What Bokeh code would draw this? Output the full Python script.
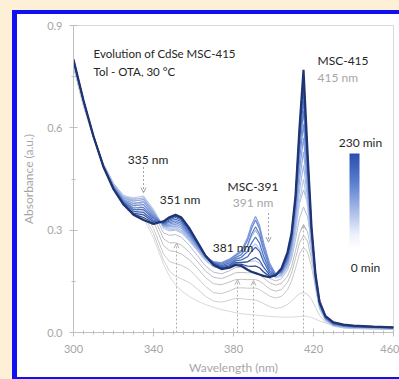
import numpy as np
from bokeh.plotting import figure
from bokeh.layouts import column, row
from bokeh.models import (Label, Arrow, OpenHead, ColorBar, LinearColorMapper,
                          FixedTicker, Range1d, NumeralTickFormatter, Spacer)
from bokeh.embed import file_html
from bokeh.resources import INLINE

# ---------------- data ----------------
wavelength = [300, 305, 310, 315, 320, 325, 330, 335, 340, 345, 348, 351, 354, 358, 362, 366,
              370, 374, 378, 381, 384, 387, 389, 391, 393, 395, 398, 401, 404, 407, 409, 411,
              413, 415, 417, 419, 421, 423, 426, 430, 435, 440, 450, 460]

# early (grey) spectra, 0 min first
g0 = [.778, .662, .569, .489, .430, .387, .360, .335, .278, .200, .165, .140, .122, .105, .092, .082,
      .074, .067, .062, .058, .055, .053, .052, .051, .050, .049, .047, .046, .045, .045, .045, .046,
      .047, .048, .047, .044, .039, .034, .028, .022, .018, .016, .013, .012]
g1 = [.779, .664, .570, .490, .432, .390, .366, .345, .290, .212, .180, .165, .157, .146, .127, .106,
      .092, .089, .095, .100, .099, .097, .096, .095, .091, .085, .076, .071, .073, .082, .092, .104,
      .114, .117, .112, .097, .074, .050, .030, .018, .013, .011, .010, .009]
g2 = [.780, .666, .571, .491, .434, .393, .372, .355, .305, .230, .208, .202, .197, .184, .160, .135,
      .117, .114, .122, .130, .131, .130, .130, .130, .126, .118, .107, .101, .106, .125, .150, .188,
      .230, .250, .236, .192, .132, .078, .039, .020, .014, .012, .011, .010]
g3 = [.782, .668, .572, .492, .436, .396, .378, .366, .325, .255, .240, .237, .230, .213, .188, .161,
      .143, .140, .148, .155, .156, .155, .155, .155, .151, .142, .128, .121, .126, .147, .174, .217,
      .262, .285, .268, .215, .145, .085, .042, .021, .015, .012, .011, .010]
g4 = [.784, .670, .573, .493, .437, .398, .383, .376, .340, .275, .263, .263, .256, .235, .208, .180,
      .162, .158, .167, .175, .176, .175, .175, .175, .170, .160, .146, .139, .144, .165, .193, .240,
      .290, .316, .296, .235, .155, .090, .044, .022, .015, .013, .012, .010]
g5 = [.786, .672, .574, .493, .437, .400, .388, .385, .352, .292, .285, .287, .279, .255, .225, .195,
      .177, .172, .181, .190, .192, .193, .194, .195, .188, .175, .159, .151, .158, .183, .215, .272,
      .335, .368, .340, .265, .170, .096, .047, .023, .016, .013, .012, .011]
g6 = [.788, .674, .575, .493, .437, .402, .392, .392, .360, .305, .298, .300, .292, .270, .240, .210,
      .192, .188, .196, .205, .207, .208, .209, .210, .203, .190, .172, .163, .170, .198, .238, .305,
      .378, .418, .380, .290, .180, .100, .050, .024, .016, .013, .012, .011]

# later (blue) spectra, 230 min last
b1 = [.790, .675, .575, .492, .435, .400, .395, .400, .360, .310, .302, .303, .295, .268, .240, .212,
      .196, .195, .205, .215, .222, .236, .250, .260, .245, .215, .180, .160, .165, .190, .225, .290,
      .385, .450, .370, .240, .130, .070, .035, .020, .015, .013, .012, .011]
b2 = [.792, .676, .575, .491, .433, .397, .390, .395, .355, .310, .306, .307, .299, .272, .243, .215,
      .200, .199, .209, .220, .230, .255, .282, .300, .280, .240, .192, .165, .168, .195, .235, .310,
      .415, .490, .395, .255, .138, .074, .037, .021, .016, .014, .013, .012]
b3 = [.794, .677, .575, .490, .431, .394, .385, .390, .352, .312, .310, .312, .305, .277, .246, .218,
      .204, .203, .213, .225, .238, .270, .305, .330, .305, .258, .200, .170, .172, .200, .245, .330,
      .445, .530, .415, .265, .145, .077, .039, .022, .017, .015, .014, .012]
b4 = [.795, .678, .575, .489, .429, .390, .378, .383, .348, .314, .314, .317, .310, .282, .250, .221,
      .207, .205, .215, .228, .242, .278, .315, .340, .315, .265, .204, .172, .175, .205, .255, .345,
      .475, .570, .435, .275, .150, .080, .041, .023, .018, .016, .014, .013]
b5 = [.796, .678, .575, .488, .427, .387, .372, .375, .343, .316, .318, .322, .315, .286, .253, .222,
      .207, .203, .213, .225, .237, .270, .305, .330, .305, .256, .198, .171, .177, .210, .262, .360,
      .505, .610, .455, .285, .155, .082, .042, .024, .019, .016, .015, .013]
b6 = [.797, .679, .575, .487, .425, .384, .365, .367, .338, .318, .322, .327, .320, .290, .256, .223,
      .206, .200, .209, .220, .228, .255, .288, .310, .288, .243, .190, .170, .179, .215, .268, .372,
      .530, .650, .475, .292, .160, .084, .043, .025, .020, .017, .015, .014]
b7 = [.798, .679, .575, .487, .424, .382, .360, .360, .334, .320, .326, .332, .325, .294, .259, .224,
      .204, .196, .204, .215, .220, .238, .262, .280, .262, .225, .182, .168, .181, .220, .274, .382,
      .555, .680, .490, .298, .163, .086, .044, .026, .020, .017, .016, .014]
b8 = [.798, .679, .575, .486, .423, .380, .355, .352, .329, .321, .330, .337, .329, .298, .261, .225,
      .202, .193, .199, .210, .213, .222, .238, .250, .238, .208, .175, .167, .183, .226, .280, .390,
      .575, .710, .505, .302, .165, .087, .045, .027, .021, .018, .016, .014]
b9 = [.799, .680, .575, .486, .422, .378, .350, .345, .325, .323, .334, .341, .333, .301, .263, .225,
      .200, .190, .195, .205, .205, .207, .214, .220, .212, .192, .169, .167, .185, .230, .285, .395,
      .590, .735, .515, .305, .167, .088, .046, .028, .022, .019, .016, .015]
b10 = [.800, .680, .575, .485, .421, .376, .347, .337, .321, .325, .336, .343, .335, .303, .264, .225,
       .199, .188, .192, .201, .200, .195, .194, .195, .190, .178, .165, .167, .187, .233, .288, .398,
       .595, .755, .522, .308, .169, .089, .047, .029, .022, .019, .017, .015]
b11 = [.800, .680, .575, .485, .420, .375, .345, .330, .318, .326, .338, .345, .337, .305, .265, .225,
       .198, .186, .190, .198, .195, .184, .178, .174, .170, .166, .162, .168, .188, .235, .290, .400,
       .600, .770, .530, .310, .170, .090, .048, .030, .023, .020, .017, .015]

spectra = [g0, g1, g2, g3, g4, g5, g6, b1, b2, b3, b4, b5, b6, b7, b8, b9, b10, b11]
spectra_colors = ["#d9d9d9", "#d0d0d0", "#c8c8c8", "#c0c0c0", "#bcbec4", "#b4bccc", "#acbad6",
                  "#bccbec", "#a9bce7", "#96ade1", "#839edb", "#708fd4", "#5e80cc", "#4d71c2",
                  "#3f63b6", "#3456a8", "#2b4895", "#1f3470"]

x_ticks = [300, 340, 380, 420, 460]
x_minor = list(range(300, 461, 5))
y_ticks = [0.0, 0.3, 0.6, 0.9]
y_minor = [0.0, 0.15, 0.3, 0.45, 0.6, 0.75, 0.9]

up_arrow_x = [351.5, 382, 390, 415]
up_arrow_top = [0.262, 0.155, 0.152, 0.316]

FONT = "Lato"
DARK = "#262626"
GREY_TXT = "#a6a6a6"
CREAM = "#fdf0d6"
FRAME_BLUE = "#1010f0"

# ---------------- figure ----------------
p = figure(width=382, height=363, x_range=Range1d(300, 460), y_range=Range1d(0, 0.9),
           output_backend="svg", toolbar_location=None,
           min_border_left=56, min_border_right=6, min_border_top=11, min_border_bottom=44)
p.border_fill_color = "white"
p.background_fill_color = "white"
p.outline_line_color = "#d9d9d9"
p.grid.visible = False

for ax in (p.xaxis[0], p.yaxis[0]):
    ax.axis_line_color = "#bfbfbf"
    ax.major_tick_line_color = "#bfbfbf"
    ax.minor_tick_line_color = "#bfbfbf"
    ax.major_tick_in = 4
    ax.major_tick_out = 4
    ax.minor_tick_in = 2
    ax.minor_tick_out = 2
    ax.major_label_text_color = GREY_TXT
    ax.major_label_text_font = FONT
    ax.major_label_text_font_size = "11px"
    ax.axis_label_text_color = GREY_TXT
    ax.axis_label_text_font = FONT
    ax.axis_label_text_font_size = "12px"
    ax.axis_label_text_font_style = "normal"

p.xaxis.ticker = FixedTicker(ticks=x_ticks, minor_ticks=x_minor)
p.yaxis.ticker = FixedTicker(ticks=y_ticks, minor_ticks=y_minor)
p.yaxis.formatter = NumeralTickFormatter(format="0.0")
p.xaxis.axis_label = "Wavelength (nm)"
p.yaxis.axis_label = "Absorbance (a.u.)"
p.xaxis.major_label_standoff = 8
p.yaxis.major_label_standoff = 7
p.xaxis.axis_label_standoff = 4
p.yaxis.axis_label_standoff = 8

# spectra
for i, (spec, col) in enumerate(zip(spectra, spectra_colors)):
    lw = 2.2 if i == len(spectra) - 1 else (1.0 if i < 7 else 1.2)
    p.line(wavelength, spec, line_color=col, line_width=lw)

# dashed arrows
for xa, ya in zip(up_arrow_x, up_arrow_top):
    p.add_layout(Arrow(end=OpenHead(size=5, line_color="#b0b0b0", line_width=1),
                       x_start=xa, y_start=0, x_end=xa, y_end=ya,
                       line_color="#b0b0b0", line_width=1, line_dash="2 2"))
p.add_layout(Arrow(end=OpenHead(size=5, line_color="#a0a0a0", line_width=1),
                   x_start=335, y_start=0.485, x_end=335, y_end=0.41,
                   line_color="#a0a0a0", line_width=1, line_dash="2 2"))
p.add_layout(Arrow(end=OpenHead(size=5, line_color="#a0a0a0", line_width=1),
                   x_start=397.5, y_start=0.35, x_end=397.5, y_end=0.265,
                   line_color="#a0a0a0", line_width=1, line_dash="2 2"))

# colour bar (time)
stops = [(0.0, (255, 255, 255)), (0.15, (238, 242, 251)), (0.4, (169, 189, 233)),
         (0.7, (90, 127, 207)), (1.0, (43, 80, 176))]
pal = []
for t in np.linspace(0, 1, 64):
    for (t0, c0), (t1, c1) in zip(stops[:-1], stops[1:]):
        if t0 <= t <= t1:
            f = (t - t0) / (t1 - t0)
            c = [int(round(a + (b - a) * f)) for a, b in zip(c0, c1)]
            pal.append("#%02x%02x%02x" % tuple(c))
            break
mapper = LinearColorMapper(palette=pal, low=0, high=230)
cb = ColorBar(color_mapper=mapper, location=(276, 83), orientation="vertical",
              width=10, height=96, padding=0, margin=0, ticker=FixedTicker(ticks=[]),
              major_tick_line_color=None, minor_tick_line_color=None,
              major_label_text_font_size="0px", bar_line_color=None,
              border_line_color=None, background_fill_alpha=0)
p.add_layout(cb)

def lab(x, y, text, color=DARK, align="center", size="12px"):
    p.add_layout(Label(x=x, y=y, text=text, text_color=color, text_font=FONT,
                       text_font_size=size, text_align=align, text_baseline="middle"))

lab(310, 0.818, "Evolution of CdSe MSC-415", align="left", size="11.5px")
lab(310, 0.764, "Tol - OTA,  30 °C", align="left", size="11.5px")
lab(337.25, 0.5085, "335 nm")
lab(353.25, 0.3887, "351 nm")
lab(379.75, 0.2484, "381 nm")
lab(389.75, 0.4267, "MSC-391")
lab(389.75, 0.380, "391 nm", color=GREY_TXT)
lab(422, 0.7978, "MSC-415", align="left")
lab(422, 0.748, "415 nm", color=GREY_TXT, align="left")
lab(443.5, 0.558, "230 min")
lab(446, 0.190, "0 min")

# page: cream background with a blue frame around the white panel
def block(w, h, color):
    return Spacer(width=w, height=h, styles={"background-color": color})

top_band = row(block(12, 4, CREAM), block(387, 4, FRAME_BLUE), spacing=0)
middle = row(block(12, 363, CREAM), block(5, 363, FRAME_BLUE), p, spacing=0,
             styles={"background-color": "white"})
bottom_band = row(block(12, 2, CREAM), block(387, 2, FRAME_BLUE), spacing=0)
page = column(block(399, 10, CREAM), top_band, middle, bottom_band, spacing=0)

open("out.html", "w").write(file_html(page, INLINE))
